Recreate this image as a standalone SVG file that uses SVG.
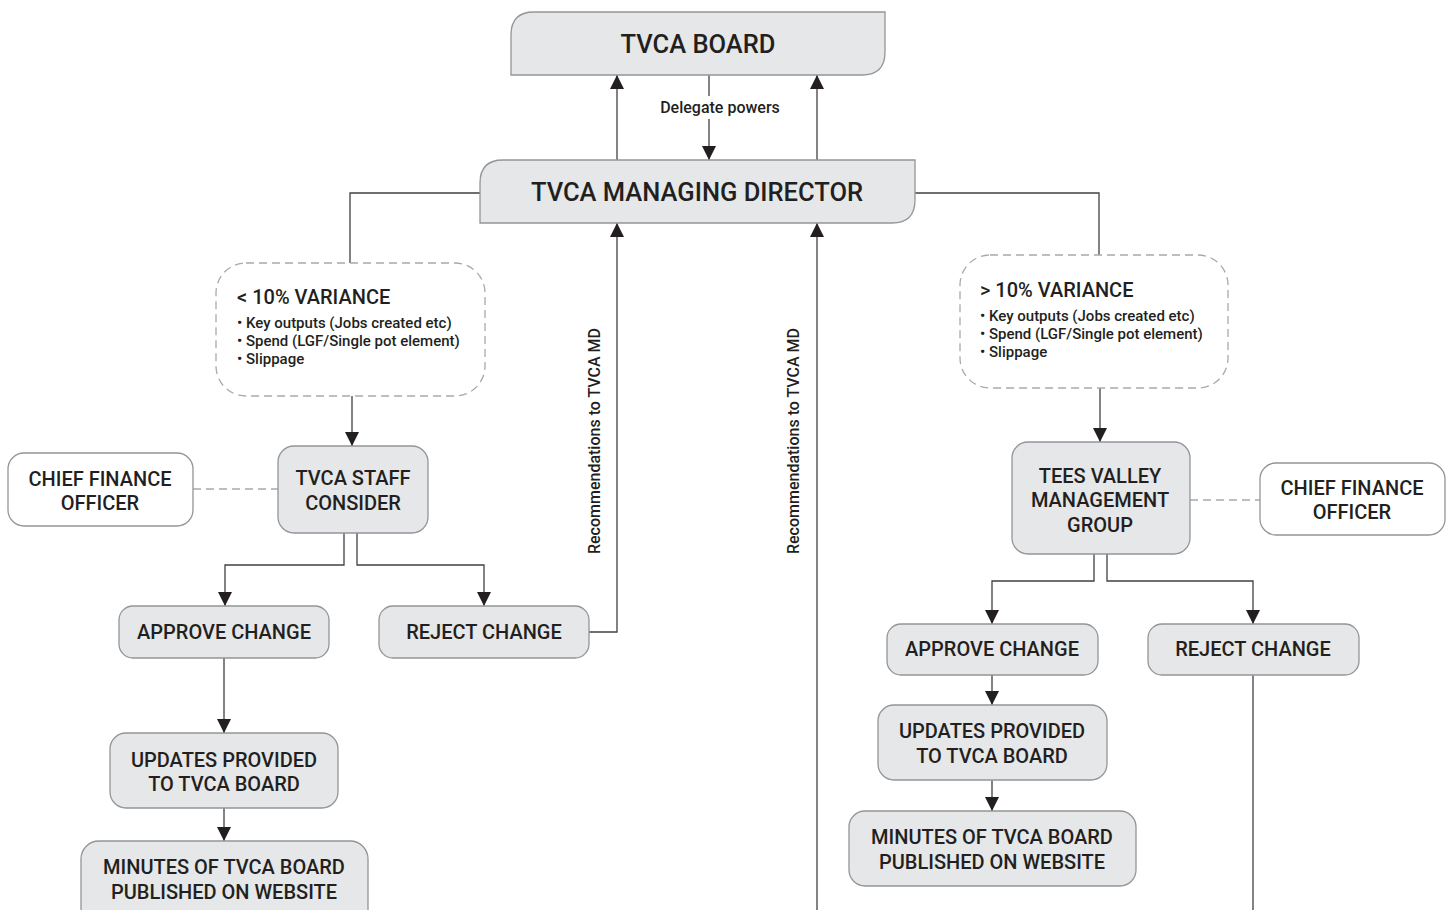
<svg xmlns="http://www.w3.org/2000/svg" width="1452" height="910" viewBox="0 0 1452 910">
<defs>
<style>
.box{fill:#e6e7e8;stroke:#939598;stroke-width:1.3}
.wbox{fill:#ffffff;stroke:#939598;stroke-width:1.3}
.dbox{fill:none;stroke:#a7a9ac;stroke-width:1.3;stroke-dasharray:8 5}
.dline{fill:none;stroke:#a7a9ac;stroke-width:1.3;stroke-dasharray:8 5}
.ln{fill:none;stroke:#414042;stroke-width:1.3}
.t{font-family:Roboto,"Liberation Sans",sans-serif;font-weight:500;fill:#231f20;text-anchor:middle}
.big{font-size:25.5px}
.n{font-size:20px}
.h{font-size:20px;text-anchor:start}
.b{font-size:15px;text-anchor:start}
.s{font-size:16px}
</style>
<marker id="ah" markerUnits="userSpaceOnUse" markerWidth="14" markerHeight="14" viewBox="0 0 14 14" refX="14" refY="7" orient="auto">
<path d="M0,0 L14,7 L0,14 z" fill="#231f20"/>
</marker>
</defs>
<rect width="1452" height="910" fill="#ffffff"/>

<g id="connectors">
<line class="ln" x1="617" y1="160" x2="617" y2="75" marker-end="url(#ah)"/>
<line class="ln" x1="817" y1="160" x2="817" y2="75" marker-end="url(#ah)"/>
<line class="ln" x1="709" y1="75" x2="709" y2="96"/>
<line class="ln" x1="709" y1="119" x2="709" y2="160" marker-end="url(#ah)"/>
<polyline class="ln" points="480,193 350,193 350,263"/>
<line class="ln" x1="352" y1="396" x2="352" y2="446" marker-end="url(#ah)"/>
<line class="dline" x1="193" y1="489" x2="278" y2="489"/>
<polyline class="ln" points="344,533 344,565 225,565 225,606" marker-end="url(#ah)"/>
<polyline class="ln" points="357,533 357,565 484,565 484,606" marker-end="url(#ah)"/>
<line class="ln" x1="224" y1="658" x2="224" y2="733" marker-end="url(#ah)"/>
<line class="ln" x1="224" y1="808" x2="224" y2="841" marker-end="url(#ah)"/>
<polyline class="ln" points="589,632 617,632 617,223" marker-end="url(#ah)"/>
<line class="ln" x1="817" y1="910" x2="817" y2="223" marker-end="url(#ah)"/>
<polyline class="ln" points="915,193 1099,193 1099,255"/>
<line class="ln" x1="1100" y1="388" x2="1100" y2="442" marker-end="url(#ah)"/>
<line class="dline" x1="1190" y1="500" x2="1260" y2="500"/>
<polyline class="ln" points="1094,554 1094,581 992,581 992,624" marker-end="url(#ah)"/>
<polyline class="ln" points="1107,554 1107,581 1253,581 1253,624" marker-end="url(#ah)"/>
<line class="ln" x1="992" y1="675" x2="992" y2="705" marker-end="url(#ah)"/>
<line class="ln" x1="992" y1="780" x2="992" y2="811" marker-end="url(#ah)"/>
<line class="ln" x1="1253" y1="675" x2="1253" y2="910"/>
<text class="t s" x="720" y="113">Delegate powers</text>
<text class="t s" transform="translate(600,441) rotate(-90)">Recommendations to TVCA MD</text>
<text class="t s" transform="translate(799,441) rotate(-90)">Recommendations to TVCA MD</text>
</g>

<g id="board">
<path class="box" d="M511,75 L511,35 Q511,12 534,12 L885,12 L885,52 Q885,75 862,75 Z"/>
<text class="t big" x="698" y="53">TVCA BOARD</text>
</g>
<g id="md">
<path class="box" d="M480,223 L480,183 Q480,160 503,160 L915,160 L915,200 Q915,223 892,223 Z"/>
<text class="t big" x="697" y="201">TVCA MANAGING DIRECTOR</text>
</g>

<g id="variance-low">
<rect class="dbox" x="216" y="263" width="269" height="133" rx="30"/>
<text class="t h" x="237" y="304">&lt; 10% VARIANCE</text>
<text class="t b" x="237" y="328">• Key outputs (Jobs created etc)</text>
<text class="t b" x="237" y="346">• Spend (LGF/Single pot element)</text>
<text class="t b" x="237" y="364">• Slippage</text>
</g>
<g id="staff">
<rect class="box" x="278" y="446" width="150" height="87" rx="16"/>
<text class="t n" x="353" y="485">TVCA STAFF</text>
<text class="t n" x="353" y="510">CONSIDER</text>
</g>
<g id="cfo-left">
<rect class="wbox" x="8" y="453" width="185" height="73" rx="16"/>
<text class="t n" x="100" y="486">CHIEF FINANCE</text>
<text class="t n" x="100" y="510">OFFICER</text>
</g>
<g id="approve-left">
<rect class="box" x="119" y="606" width="210" height="52" rx="14"/>
<text class="t n" x="224" y="639">APPROVE CHANGE</text>
</g>
<g id="reject-left">
<rect class="box" x="379" y="606" width="210" height="52" rx="14"/>
<text class="t n" x="484" y="639">REJECT CHANGE</text>
</g>
<g id="updates-left">
<rect class="box" x="110" y="733" width="228" height="75" rx="16"/>
<text class="t n" x="224" y="767">UPDATES PROVIDED</text>
<text class="t n" x="224" y="791">TO TVCA BOARD</text>
</g>
<g id="minutes-left">
<rect class="box" x="81" y="841" width="287" height="90" rx="18"/>
<text class="t n" x="224" y="874">MINUTES OF TVCA BOARD</text>
<text class="t n" x="224" y="899">PUBLISHED ON WEBSITE</text>
</g>

<g id="variance-high">
<rect class="dbox" x="960" y="255" width="268" height="133" rx="30"/>
<text class="t h" x="980" y="297">&gt; 10% VARIANCE</text>
<text class="t b" x="980" y="321">• Key outputs (Jobs created etc)</text>
<text class="t b" x="980" y="339">• Spend (LGF/Single pot element)</text>
<text class="t b" x="980" y="357">• Slippage</text>
</g>
<g id="tvmg">
<rect class="box" x="1012" y="442" width="178" height="112" rx="16"/>
<text class="t n" x="1100" y="483">TEES VALLEY</text>
<text class="t n" x="1100" y="507">MANAGEMENT</text>
<text class="t n" x="1100" y="532">GROUP</text>
</g>
<g id="cfo-right">
<rect class="wbox" x="1260" y="463" width="185" height="72" rx="16"/>
<text class="t n" x="1352" y="495">CHIEF FINANCE</text>
<text class="t n" x="1352" y="519">OFFICER</text>
</g>
<g id="approve-right">
<rect class="box" x="887" y="624" width="211" height="51" rx="14"/>
<text class="t n" x="992" y="656">APPROVE CHANGE</text>
</g>
<g id="reject-right">
<rect class="box" x="1148" y="624" width="211" height="51" rx="14"/>
<text class="t n" x="1253" y="656">REJECT CHANGE</text>
</g>
<g id="updates-right">
<rect class="box" x="878" y="705" width="229" height="75" rx="16"/>
<text class="t n" x="992" y="738">UPDATES PROVIDED</text>
<text class="t n" x="992" y="763">TO TVCA BOARD</text>
</g>
<g id="minutes-right">
<rect class="box" x="849" y="811" width="287" height="75" rx="16"/>
<text class="t n" x="992" y="844">MINUTES OF TVCA BOARD</text>
<text class="t n" x="992" y="869">PUBLISHED ON WEBSITE</text>
</g>
</svg>
